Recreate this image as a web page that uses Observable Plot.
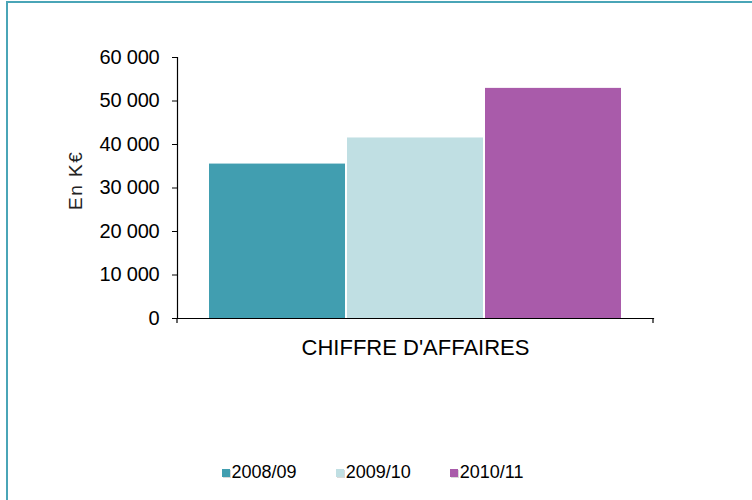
<!DOCTYPE html>
<html>
<head>
<meta charset="utf-8">
<script src="https://cdn.jsdelivr.net/npm/d3@7"></script>
<script src="https://cdn.jsdelivr.net/npm/@observablehq/plot@0.6"></script>
<style>
  html, body { margin: 0; padding: 0; background: #fff; overflow: hidden; }
  #wrap { position: relative; width: 752px; height: 500px; font-family: "Liberation Sans", Arial, sans-serif; }
  #border { position: absolute; left: 6px; top: 1px; width: 900px; height: 700px; border: 2px solid #4aa5b7; box-sizing: border-box; pointer-events: none; }
  #chart { position: absolute; left: 0; top: 0; }
  #legend { position: absolute; left: 0; top: 462px; width: 745px; display: flex; justify-content: center; gap: 39px; font-size: 18px; color: #000; }
  #legend .item { display: flex; align-items: center; }
  #legend .sw { width: 8px; height: 8px; margin-right: 2px; box-shadow: 1px 1px 0 rgba(0,0,0,0.15); }
  .yax text { letter-spacing: -0.2px; }
  .ylab text { letter-spacing: 1.5px; }
</style>
</head>
<body>
<div id="wrap">
  <div id="border"></div>
  <div id="chart"></div>
  <div id="legend"></div>
</div>
<script>
const category = "CHIFFRE D'AFFAIRES";
const series = ["2008/09", "2009/10", "2010/11"];
const values = [35500, 41500, 52900];
const colors = ["#419eb0", "#c0dfe3", "#a95baa"];
const yTicks = [0, 10000, 20000, 30000, 40000, 50000, 60000];
const yLabel = "En K€";

const data = series.map((s, i) => ({series: s, value: values[i], category}));
const fmt = d => d3.format(",")(d).replace(/,/g, " ");

const endTicks = (index, scales, values, dim) => {
  const g = d3.create("svg:g");
  const y0 = dim.height - dim.marginBottom;
  const xs = [dim.marginLeft, dim.width - dim.marginRight];
  for (const x of xs) {
    g.append("line").attr("x1", x).attr("x2", x).attr("y1", y0).attr("y2", y0 + 5)
      .attr("stroke", "#000").attr("stroke-width", 1.2);
  }
  return g.node();
};

const chart = Plot.plot({
  width: 752,
  height: 440,
  marginLeft: 177,
  marginRight: 99,
  marginTop: 57,
  marginBottom: 122,
  style: {fontFamily: "'Liberation Sans', Arial, sans-serif", fontSize: "18px", background: "transparent", color: "#000"},
  x: {domain: series, paddingInner: 0, paddingOuter: 0.22},
  y: {domain: [0, 60000]},
  color: {domain: series, range: colors},
  marks: [
    Plot.barY(data, {x: "series", y: "value", fill: "series", insetLeft: 1, insetRight: 1}),
    Plot.axisY({ticks: yTicks, tickFormat: fmt, tickSize: 5, tickPadding: 13, label: null, fontSize: 20, className: "yax"}),
    Plot.text([yLabel], {text: d => d, frameAnchor: "left", rotate: -90, dx: -102, dy: 22, fontSize: 19, fill: "#222", className: "ylab"}),
    Plot.axisX({tickSize: 0, tickFormat: () => "", label: category, labelAnchor: "center", labelArrow: "none", labelOffset: 36, fontSize: 22}),
    Plot.frame({anchor: "left", stroke: "#000", strokeWidth: 1.2}),
    Plot.frame({anchor: "bottom", stroke: "#000", strokeWidth: 1.2}),
    endTicks
  ]
});
document.getElementById("chart").appendChild(chart);

const legend = document.getElementById("legend");
series.forEach((s, i) => {
  const item = document.createElement("div");
  item.className = "item";
  const sw = document.createElement("span");
  sw.className = "sw";
  sw.style.background = colors[i];
  item.appendChild(sw);
  const t = document.createElement("span");
  t.textContent = s;
  item.appendChild(t);
  legend.appendChild(item);
});
</script>
</body>
</html>
